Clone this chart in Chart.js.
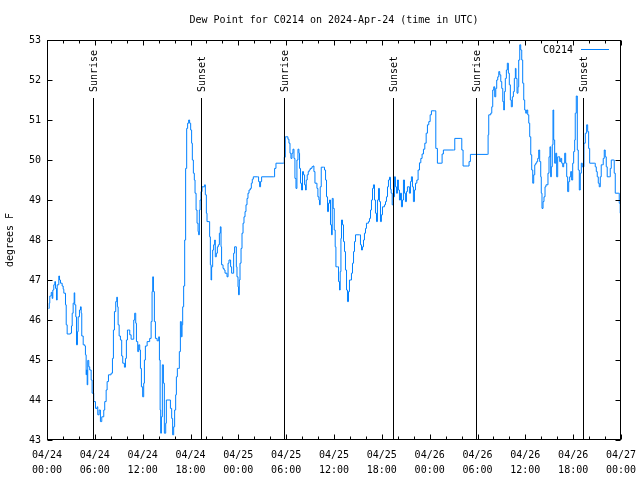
<!DOCTYPE html>
<html lang="en">
<head>
<meta charset="UTF-8">
<title>Dew Point for C0214</title>
<script src="https://cdn.jsdelivr.net/npm/chart.js@4.4.0/dist/chart.umd.min.js"></script>
<style>
  html, body { margin: 0; padding: 0; background: #fff; }
  #wrap { width: 640px; height: 480px; }
</style>
</head>
<body>
<div id="wrap"><canvas id="dew" width="640" height="480"></canvas></div>
<script>
// hours since 2024-04-24 00:00 UTC
const hours = [
  0.19, 0.28, 0.35, 0.53, 0.65, 0.73, 0.85, 0.98, 1.07, 1.19, 1.28, 1.48, 1.57, 1.69, 1.90, 2.03, 2.11, 2.32, 2.41, 2.53,
  2.94, 3.07, 3.16, 3.28, 3.41, 3.48, 3.61, 3.70, 3.82, 3.91, 4.07, 4.20, 4.29, 4.36, 4.54, 4.74, 4.82, 4.91, 4.95, 5.04,
  5.11, 5.24, 5.36, 5.54, 5.66, 5.86, 6.08, 6.29, 6.37, 6.54, 6.70, 6.87, 7.12, 7.24, 7.42, 7.54, 7.71, 8.04, 8.21, 8.33,
  8.46, 8.62, 8.75, 8.83, 8.92, 9.05, 9.21, 9.37, 9.50, 9.71, 9.84, 9.96, 10.09, 10.25, 10.38, 10.55, 10.80, 10.88, 11.00, 11.13,
  11.22, 11.38, 11.50, 11.63, 11.72, 11.84, 12.00, 12.13, 12.22, 12.34, 12.56, 12.88, 13.06, 13.18, 13.26, 13.35, 13.47, 13.60, 13.81, 14.01,
  14.10, 14.19, 14.26, 14.35, 14.47, 14.60, 14.72, 14.89, 14.97, 15.31, 15.48, 15.64, 15.76, 15.89, 16.01, 16.14, 16.23, 16.35, 16.52, 16.60,
  16.73, 16.85, 16.94, 17.02, 17.14, 17.27, 17.39, 17.52, 17.64, 17.77, 17.89, 18.02, 18.14, 18.23, 18.36, 18.48, 18.57, 18.70, 18.82, 18.95,
  19.02, 19.11, 19.20, 19.32, 19.45, 19.77, 19.86, 19.99, 20.07, 20.33, 20.40, 20.49, 20.58, 20.65, 20.78, 20.90, 21.03, 21.11, 21.24, 21.37,
  21.49, 21.62, 21.74, 21.83, 21.90, 22.08, 22.21, 22.33, 22.58, 22.71, 22.83, 23.03, 23.16, 23.41, 23.53, 23.75, 23.83, 23.96, 24.03, 24.12,
  24.21, 24.34, 24.46, 24.59, 24.71, 24.84, 24.96, 25.09, 25.21, 25.34, 25.50, 25.63, 25.75, 25.88, 26.42, 26.54, 26.67, 26.79, 26.92, 28.42,
  28.55, 28.72, 29.67, 29.76, 29.89, 30.10, 30.22, 30.35, 30.48, 30.60, 30.73, 30.85, 30.98, 31.10, 31.23, 31.35, 31.48, 31.60, 31.68, 31.80,
  31.93, 32.05, 32.18, 32.31, 32.43, 32.52, 32.64, 32.77, 32.89, 33.02, 33.23, 33.36, 33.48, 33.61, 33.86, 33.98, 34.11, 34.18, 34.27, 34.40,
  34.69, 34.81, 34.94, 35.06, 35.19, 35.31, 35.44, 35.56, 35.69, 35.78, 35.90, 36.03, 36.15, 36.24, 36.44, 36.57, 36.69, 36.78, 36.87, 36.94,
  37.07, 37.19, 37.32, 37.44, 37.57, 37.69, 37.82, 37.94, 38.19, 38.32, 38.45, 38.57, 38.70, 39.20, 39.32, 39.45, 39.57, 39.70, 39.82, 39.95,
  40.07, 40.32, 40.45, 40.58, 40.70, 40.83, 40.95, 41.08, 41.20, 41.33, 41.45, 41.58, 41.70, 41.83, 41.95, 42.08, 42.33, 42.46, 42.58, 42.71,
  42.83, 42.96, 43.08, 43.17, 43.30, 43.46, 43.58, 43.71, 43.83, 43.96, 44.08, 44.21, 44.34, 44.46, 44.59, 44.71, 44.84, 44.96, 45.09, 45.21,
  45.46, 45.59, 45.71, 45.84, 45.96, 46.09, 46.22, 46.39, 46.55, 46.72, 46.89, 47.05, 47.22, 47.39, 47.56, 47.72, 47.89, 48.06, 48.22, 48.64,
  48.77, 48.97, 49.44, 49.56, 49.72, 50.98, 51.15, 51.91, 52.03, 52.19, 52.78, 52.94, 53.11, 55.24, 55.33, 55.41, 55.66, 55.79, 55.91, 56.04,
  56.16, 56.29, 56.41, 56.54, 56.67, 56.79, 56.92, 57.04, 57.17, 57.29, 57.37, 57.49, 57.62, 57.74, 57.87, 57.99, 58.12, 58.24, 58.37, 58.50,
  58.62, 58.75, 58.83, 58.96, 59.08, 59.17, 59.30, 59.42, 59.55, 59.67, 59.80, 59.92, 60.05, 60.17, 60.30, 60.43, 60.55, 60.68, 60.80, 60.93,
  61.05, 61.18, 61.30, 61.43, 61.55, 61.68, 61.80, 61.93, 62.00, 62.09, 62.22, 62.34, 62.47, 62.59, 62.72, 62.84, 62.97, 63.09, 63.18, 63.26,
  63.38, 63.47, 63.56, 63.68, 63.81, 63.93, 64.06, 64.18, 64.31, 64.44, 64.56, 64.69, 64.81, 64.94, 65.06, 65.19, 65.31, 65.44, 65.56, 65.69,
  65.81, 65.94, 66.06, 66.19, 66.26, 66.39, 66.52, 66.64, 66.77, 66.89, 67.02, 67.14, 67.35, 67.52, 67.69, 67.82, 67.94, 68.07, 68.64, 68.77,
  68.90, 69.02, 69.15, 69.27, 69.40, 69.52, 69.65, 69.77, 69.90, 70.02, 70.15, 70.27, 70.52, 70.65, 70.78, 71.03, 71.15, 71.28, 71.65, 71.78,
  71.90, 71.99
];

// dew point, degrees F
const dewPoint = [
  46.29, 46.42, 46.60, 46.69, 46.54, 46.75, 46.88, 46.96, 46.79, 46.50, 46.88, 47.10, 47.00, 46.92, 46.85, 46.77, 46.67, 46.38, 45.88, 45.65,
  45.67, 45.85, 46.17, 46.42, 46.68, 46.38, 46.08, 45.38, 45.71, 46.08, 46.25, 46.33, 46.17, 45.60, 45.38, 45.35, 45.13, 44.63, 44.75, 44.38,
  44.99, 44.83, 44.75, 44.50, 44.17, 43.96, 43.79, 43.83, 43.63, 43.75, 43.46, 43.58, 43.75, 43.96, 44.25, 44.46, 44.63, 44.67, 45.04, 45.75,
  46.21, 46.46, 46.57, 46.33, 45.88, 45.60, 45.50, 45.10, 44.92, 44.82, 45.04, 45.50, 45.75, 45.75, 45.63, 45.52, 45.52, 46.00, 46.17, 45.92,
  45.46, 45.21, 45.38, 45.25, 44.79, 44.33, 44.08, 44.42, 45.00, 45.35, 45.46, 45.54, 45.96, 46.71, 47.08, 46.71, 45.96, 45.54, 45.48, 45.58,
  45.00, 43.75, 43.17, 43.58, 44.88, 44.42, 43.17, 43.42, 44.00, 44.00, 43.79, 43.54, 43.13, 43.33, 43.75, 44.13, 44.58, 44.79, 44.79, 45.21,
  45.96, 45.58, 45.88, 46.33, 46.85, 48.00, 49.79, 50.79, 50.92, 51.00, 50.92, 50.75, 50.42, 50.00, 49.67, 49.50, 49.17, 48.75, 48.42, 48.21,
  48.13, 48.75, 49.00, 49.21, 49.33, 49.38, 49.13, 48.67, 48.46, 48.46, 48.08, 47.38, 47.00, 47.33, 47.75, 47.88, 48.00, 47.58, 47.67, 47.83,
  47.88, 48.17, 48.33, 47.83, 47.38, 47.29, 47.25, 47.17, 47.08, 47.42, 47.50, 47.33, 47.17, 47.67, 47.83, 47.33, 47.08, 46.83, 46.63, 47.00,
  47.42, 47.79, 48.17, 48.42, 48.58, 48.71, 48.88, 49.04, 49.17, 49.25, 49.29, 49.42, 49.52, 49.58, 49.58, 49.46, 49.33, 49.46, 49.58, 49.58,
  49.79, 49.92, 49.92, 50.07, 50.58, 50.58, 50.52, 50.42, 50.17, 50.04, 50.17, 50.27, 50.04, 49.54, 49.29, 50.00, 50.27, 50.17, 49.79, 49.42,
  49.25, 49.71, 49.63, 49.38, 49.25, 49.50, 49.63, 49.71, 49.75, 49.79, 49.83, 49.85, 49.71, 49.42, 49.29, 49.08, 49.00, 48.88, 49.33, 49.82,
  49.82, 49.75, 49.50, 49.08, 48.71, 48.92, 49.00, 48.38, 48.13, 49.04, 48.79, 48.25, 47.83, 47.33, 47.33, 46.96, 46.75, 47.21, 48.04, 48.50,
  48.38, 47.96, 47.71, 47.25, 46.75, 46.46, 46.71, 47.00, 47.17, 47.42, 47.71, 47.96, 48.13, 48.13, 47.88, 47.75, 47.83, 48.00, 48.17, 48.29,
  48.42, 48.46, 48.54, 48.75, 49.00, 49.29, 49.38, 49.00, 48.67, 48.46, 49.00, 49.29, 48.96, 48.46, 48.63, 48.83, 48.88, 48.96, 49.08, 49.33,
  49.50, 49.57, 49.27, 49.17, 48.88, 49.08, 49.58, 49.33, 49.17, 49.50, 49.25, 49.00, 49.17, 48.83, 49.00, 49.50, 49.17, 48.96, 49.21, 49.33,
  49.17, 49.46, 49.58, 49.33, 48.96, 49.25, 49.42, 49.50, 49.75, 49.93, 50.04, 50.15, 50.27, 50.42, 50.67, 50.88, 50.96, 51.13, 51.23, 51.23,
  50.29, 49.92, 49.92, 50.15, 50.25, 50.25, 50.54, 50.54, 50.25, 49.85, 49.85, 49.96, 50.14, 50.14, 50.63, 51.13, 51.17, 51.33, 51.75, 51.83,
  51.58, 51.79, 52.00, 52.08, 52.21, 52.13, 51.96, 51.79, 51.46, 51.25, 51.71, 52.04, 52.25, 52.42, 52.17, 51.88, 51.50, 51.33, 51.58, 51.71,
  52.04, 52.29, 52.04, 51.67, 51.83, 52.50, 52.88, 52.75, 52.50, 51.92, 51.50, 51.25, 51.17, 51.25, 51.13, 50.92, 50.58, 50.13, 49.75, 49.42,
  49.63, 49.88, 49.92, 49.96, 50.04, 50.25, 49.96, 49.58, 49.17, 48.79, 48.96, 49.08, 49.33, 49.38, 49.38, 49.67, 50.08, 50.33, 49.58, 49.83,
  50.38, 51.25, 50.50, 49.92, 50.17, 49.58, 50.08, 50.08, 49.96, 50.04, 49.92, 49.83, 49.92, 50.17, 49.92, 49.58, 49.21, 49.46, 49.58, 49.71,
  49.50, 49.92, 50.21, 50.50, 51.17, 51.60, 50.25, 49.75, 49.25, 49.67, 49.92, 49.83, 50.42, 50.67, 50.88, 50.71, 50.29, 49.92, 49.92, 49.83,
  49.71, 49.58, 49.42, 49.33, 49.58, 49.88, 49.88, 50.04, 50.25, 50.08, 49.83, 49.58, 49.58, 49.79, 50.00, 50.00, 49.67, 49.17, 49.17, 48.92,
  48.67, 48.33
];

const xTickDates = ['04/24', '04/24', '04/24', '04/24', '04/25', '04/25', '04/25', '04/25', '04/26', '04/26', '04/26', '04/26', '04/27'];
const xTickTimes = ['00:00', '06:00', '12:00', '18:00', '00:00', '06:00', '12:00', '18:00', '00:00', '06:00', '12:00', '18:00', '00:00'];

const sunriseHours = [5.74, 29.76, 53.78];
const sunsetHours = [19.27, 43.38, 67.27];

const MONO = "'DejaVu Sans Mono', 'Liberation Mono', monospace";
const LINE_BLUE = '#0080ff';

// gnuplot-like frame, inward ticks, sun markers, title, key and y label
const gnuplotLook = {
  id: 'gnuplotLook',
  afterDatasetsDraw(chart) {
    const { ctx, chartArea: a, scales: { x } } = chart;
    ctx.save();
    ctx.strokeStyle = '#000';
    ctx.fillStyle = '#000';
    ctx.lineWidth = 1;
    ctx.font = '10px ' + MONO;
    const marks = sunriseHours.map(h => [h, 'Sunrise']).concat(sunsetHours.map(h => [h, 'Sunset']));
    marks.forEach(([h, label]) => {
      const px = Math.round(x.getPixelForValue(h)) + 0.5;
      ctx.beginPath();
      ctx.moveTo(px, a.bottom);
      ctx.lineTo(px, a.top + 58);
      ctx.stroke();
      ctx.save();
      ctx.translate(px + 1, a.top + 52);
      ctx.rotate(-Math.PI / 2);
      ctx.textAlign = 'left';
      ctx.textBaseline = 'middle';
      ctx.fillText(label, 0, 0);
      ctx.restore();
    });
    ctx.restore();
  },
  afterDraw(chart) {
    const { ctx, chartArea: a, scales: { x, y } } = chart;
    ctx.save();
    ctx.strokeStyle = '#000';
    ctx.fillStyle = '#000';
    ctx.lineWidth = 1;

    const L = Math.round(a.left) + 0.5, R = Math.round(a.right) - 0.5;
    const T = Math.round(a.top) + 0.5, B = Math.round(a.bottom) - 0.5;
    ctx.strokeRect(L, T, R - L, B - T);

    ctx.beginPath();
    for (let h = x.min; h <= x.max; h += 2) {
      const px = Math.round(x.getPixelForValue(h)) + 0.5;
      const len = h % 6 === 0 ? 5 : 3;
      ctx.moveTo(px, B); ctx.lineTo(px, B - len);
      ctx.moveTo(px, T); ctx.lineTo(px, T + len);
    }
    y.ticks.forEach(t => {
      const py = Math.round(y.getPixelForValue(t.value)) + 0.5;
      ctx.moveTo(L, py); ctx.lineTo(L + 5, py);
      ctx.moveTo(R, py); ctx.lineTo(R - 5, py);
    });
    ctx.stroke();

    ctx.font = '10px ' + MONO;
    ctx.textBaseline = 'middle';

    // title
    ctx.textAlign = 'center';
    ctx.fillText('Dew Point for C0214 on 2024-Apr-24 (time in UTC)', (a.left + a.right) / 2, 20);

    // key
    ctx.textAlign = 'right';
    ctx.fillText('C0214', a.right - 48, a.top + 10);
    ctx.strokeStyle = LINE_BLUE;
    ctx.beginPath();
    ctx.moveTo(a.right - 40, a.top + 9.5);
    ctx.lineTo(a.right - 12, a.top + 9.5);
    ctx.stroke();

    // y axis label
    ctx.save();
    ctx.translate(10, (a.top + a.bottom) / 2);
    ctx.rotate(-Math.PI / 2);
    ctx.textAlign = 'center';
    ctx.fillText('degrees F', 0, 0);
    ctx.restore();

    ctx.restore();
  }
};

new Chart(document.getElementById('dew'), {
  type: 'line',
  data: {
    datasets: [{
      label: 'C0214',
      data: hours.map((h, i) => ({ x: h, y: dewPoint[i] })),
      borderColor: LINE_BLUE,
      borderWidth: 1,
      pointRadius: 0,
      stepped: true,
      fill: false
    }]
  },
  options: {
    responsive: false,
    animation: false,
    devicePixelRatio: 1,
    layout: { padding: { top: 40, right: 19, bottom: 0, left: 0 } },
    plugins: {
      legend: { display: false },
      title: { display: false },
      tooltip: { enabled: false }
    },
    scales: {
      x: {
        type: 'linear',
        min: 0,
        max: 72,
        grid: { display: false, drawTicks: false },
        border: { display: false },
        afterFit: s => { s.height = 40; s.paddingLeft = 0; s.paddingRight = 0; },
        ticks: {
          stepSize: 6,
          autoSkip: false,
          maxRotation: 0,
          padding: 8,
          color: '#000',
          font: { family: MONO, size: 10, lineHeight: 1.5 },
          callback: (v, i) => [xTickDates[i], xTickTimes[i]]
        }
      },
      y: {
        min: 43,
        max: 53,
        grid: { display: false, drawTicks: false },
        border: { display: false },
        afterFit: s => { s.width = 47; s.paddingTop = 0; s.paddingBottom = 0; },
        ticks: {
          stepSize: 1,
          padding: 6,
          color: '#000',
          font: { family: MONO, size: 10 }
        }
      }
    }
  },
  plugins: [gnuplotLook]
});
</script>
</body>
</html>
